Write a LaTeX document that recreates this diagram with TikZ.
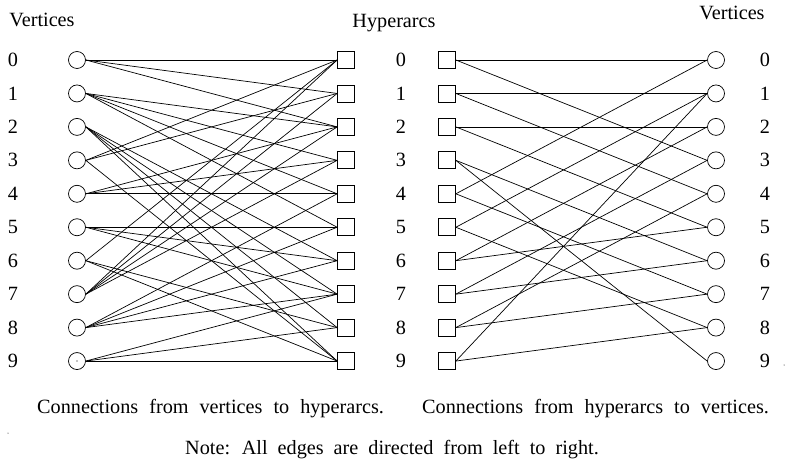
\documentclass[tikz,border=0pt]{standalone}
\usepackage{fontspec}
\setmainfont{Liberation Serif}
\newcommand{\widesp}{\spaceskip=11bp plus 1bp minus 1bp\relax}
\newcommand{\notesp}{\spaceskip=10bp plus 1bp minus 1bp\relax}
\begin{document}
\begin{tikzpicture}[x=1bp,y=-1bp,
  vtx/.style={circle,draw,line width=0.7bp,minimum size=17bp,inner sep=0pt},
  hyp/.style={rectangle,draw,line width=0.7bp,minimum size=17bp,inner sep=0pt},
  lab/.style={font=\fontsize{20.3}{24}\selectfont,inner sep=0pt},
  captxt/.style={font=\fontsize{20.3}{24}\selectfont,inner sep=0pt,anchor=base west},
  conn/.style={line width=0.7bp}]
\useasboundingbox (0,0) rectangle (786,470);
% headings
\node[lab] (hv1) at (42,20) {Vertices};
\node[lab,anchor=base] (hh) at (394,28) {Hyperarcs};
\node[lab] (hv2) at (732,13) {Vertices};
% nodes
\foreach \i in {0,...,9}{
  \pgfmathsetmacro{\yy}{60+33.45*\i}
  \node[lab] (la\i) at (13,\yy) {\i};
  \node[vtx] (u\i) at (77,\yy) {};
  \node[hyp] (s\i) at (346,\yy) {};
  \node[lab] (lb\i) at (401,\yy) {\i};
  \node[hyp] (h\i) at (447,\yy) {};
  \node[vtx] (v\i) at (716,\yy) {};
  \node[lab] (lc\i) at (765,\yy) {\i};
}
% vertices -> hyperarcs
\foreach \a/\b in {0/0,0/1,0/2, 1/2,1/3,1/4,1/5, 2/6,2/7,2/8,2/9, 3/0,3/1,3/9,
  4/2,4/3,4/4, 5/5,5/6,5/7, 6/0,6/8,6/9, 7/0,7/1,7/2,7/3, 8/4,8/5,8/6,8/7, 9/7,9/8,9/9}
  \draw[conn] (u\a.east) -- (s\b.west);
% hyperarcs -> vertices
\foreach \a/\b in {0/0,0/3, 1/1,1/4, 2/2,2/5, 3/6,3/9, 4/0,4/7, 5/1,5/8, 6/2,6/5, 7/3,7/6, 8/4,8/7, 9/1,9/8}
  \draw[conn] (h\a.east) -- (v\b.west);
% captions
\node[captxt] (c1) at (37,413) {\widesp Connections from vertices to hyperarcs.};
\node[captxt] (c2) at (422,413) {\widesp Connections from hyperarcs to vertices.};
\node[captxt] (nt) at (185,454) {\notesp Note: All edges are directed from left to right.};
% stray dots
\fill (u9.center) circle (0.6bp);
\fill (8,433) circle (0.5bp);
\fill (784,365) circle (0.5bp);
\end{tikzpicture}
\end{document}
